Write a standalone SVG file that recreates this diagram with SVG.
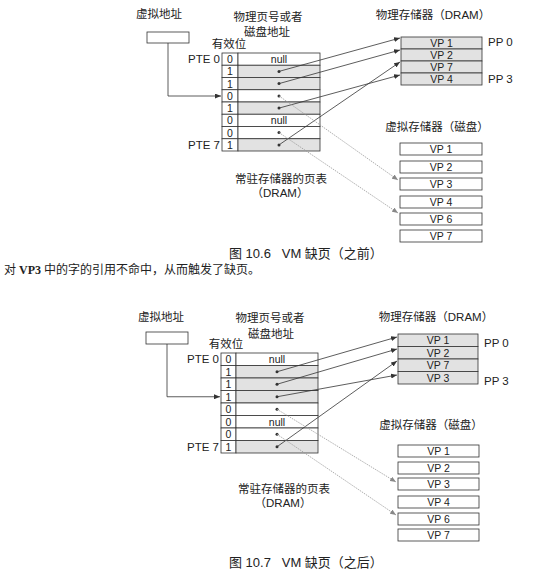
<svg xmlns="http://www.w3.org/2000/svg" width="556" height="577" viewBox="0 0 556 577">
<style>
text{font-family:"Liberation Sans","Noto Sans CJK SC",sans-serif;fill:#222}
.lb{font-size:11.5px}
.cap{font-size:13px}
.body{font-family:"Liberation Serif","Noto Sans CJK SC",serif;font-size:12px}
.c{text-anchor:middle}
.e{text-anchor:end}
.cell{font-size:10.5px;text-anchor:middle}
.box{fill:#fff;stroke:#333;stroke-width:0.8}
.sh{fill:#e2e2e2;stroke:#333;stroke-width:0.8}
.ln{fill:none;stroke:#333;stroke-width:0.8}
.dl{fill:none;stroke:#999;stroke-width:0.8;stroke-dasharray:1.5 1}
.dot{fill:#333}
</style>
<defs>
<marker id="ah" viewBox="0 0 6 5" refX="6" refY="2.5" markerWidth="6" markerHeight="5" markerUnits="userSpaceOnUse" orient="auto"><path d="M0,0L6,2.5L0,5z" fill="#333"/></marker>
<marker id="ahg" viewBox="0 0 6 5" refX="6" refY="2.5" markerWidth="6" markerHeight="5" markerUnits="userSpaceOnUse" orient="auto"><path d="M0,0L6,2.5L0,5z" fill="#888"/></marker>
</defs>

<!-- ===== Figure 10.6 ===== -->
<g id="va-1">
<text class="lb c" x="159" y="18">虚拟地址</text>
<rect class="box" x="147" y="32" width="42" height="11"/>
</g>
<g id="pagetable-1">
<text class="lb c" x="268" y="21">物理页号或者</text>
<text class="lb c" x="267" y="36">磁盘地址</text>
<text class="lb c" x="229" y="48">有效位</text>
<text class="lb e" x="220" y="63">PTE 0</text>
<text class="lb e" x="220" y="149">PTE 7</text>
<rect class="box" x="222" y="53" width="16" height="12.25"/><rect class="box" x="238" y="53" width="82" height="12.25"/>
<rect class="box" x="222" y="65.25" width="16" height="12.25"/><rect class="sh" x="238" y="65.25" width="82" height="12.25"/>
<rect class="box" x="222" y="77.5" width="16" height="12.25"/><rect class="sh" x="238" y="77.5" width="82" height="12.25"/>
<rect class="box" x="222" y="89.75" width="16" height="12.25"/><rect class="box" x="238" y="89.75" width="82" height="12.25"/>
<rect class="box" x="222" y="102" width="16" height="12.25"/><rect class="sh" x="238" y="102" width="82" height="12.25"/>
<rect class="box" x="222" y="114.25" width="16" height="12.25"/><rect class="box" x="238" y="114.25" width="82" height="12.25"/>
<rect class="box" x="222" y="126.5" width="16" height="12.25"/><rect class="box" x="238" y="126.5" width="82" height="12.25"/>
<rect class="box" x="222" y="138.75" width="16" height="12.25"/><rect class="sh" x="238" y="138.75" width="82" height="12.25"/>
<text class="cell" x="230" y="63">0</text>
<text class="cell" x="230" y="75.2">1</text>
<text class="cell" x="230" y="87.5">1</text>
<text class="cell" x="230" y="99.7">0</text>
<text class="cell" x="230" y="112">1</text>
<text class="cell" x="230" y="124.2">0</text>
<text class="cell" x="230" y="136.5">0</text>
<text class="cell" x="230" y="148.7">1</text>
<text class="cell" x="279" y="63">null</text>
<text class="cell" x="279" y="124.2">null</text>
<circle class="dot" cx="279" cy="71.4" r="1.5"/>
<circle class="dot" cx="279" cy="83.6" r="1.5"/>
<circle class="dot" cx="279" cy="95.9" r="1.5"/>
<circle class="dot" cx="279" cy="108.1" r="1.5"/>
<circle class="dot" cx="279" cy="132.6" r="1.5"/>
<circle class="dot" cx="279" cy="144.9" r="1.5"/>
<text class="lb c" x="281" y="183">常驻存储器的页表</text>
<text class="lb c" x="280" y="197">（DRAM）</text>
</g>
<g id="phys-1">
<text class="lb c" x="433" y="19">物理存储器（DRAM）</text>
<rect class="sh" x="401" y="37" width="81" height="12"/>
<rect class="sh" x="401" y="49" width="81" height="12"/>
<rect class="sh" x="401" y="61" width="81" height="12"/>
<rect class="sh" x="401" y="73" width="81" height="12"/>
<text class="cell" x="441.5" y="47">VP 1</text>
<text class="cell" x="441.5" y="59">VP 2</text>
<text class="cell" x="441.5" y="71">VP 7</text>
<text class="cell" x="441.5" y="83">VP 4</text>
<text class="lb" x="488" y="46">PP 0</text>
<text class="lb" x="488" y="83">PP 3</text>
</g>
<g id="disk-1">
<text class="lb c" x="437" y="131">虚拟存储器（磁盘）</text>
<rect class="box" x="400" y="143" width="82" height="12"/>
<rect class="box" x="400" y="161" width="82" height="12"/>
<rect class="box" x="400" y="178" width="82" height="12"/>
<rect class="box" x="400" y="196" width="82" height="12"/>
<rect class="box" x="400" y="213" width="82" height="12"/>
<rect class="box" x="400" y="230" width="82" height="12"/>
<text class="cell" x="441" y="153">VP 1</text>
<text class="cell" x="441" y="171">VP 2</text>
<text class="cell" x="441" y="188">VP 3</text>
<text class="cell" x="441" y="206">VP 4</text>
<text class="cell" x="441" y="223">VP 6</text>
<text class="cell" x="441" y="240">VP 7</text>
</g>
<g id="connectors-1">
<path class="ln" d="M168,43V96H221" marker-end="url(#ah)"/>
<path class="ln" d="M279,71.4L400,38" marker-end="url(#ah)"/>
<path class="ln" d="M279,83.6L400,50" marker-end="url(#ah)"/>
<path class="ln" d="M279,108.1L400,75" marker-end="url(#ah)"/>
<path class="ln" d="M279,144.9L400,62" marker-end="url(#ah)"/>
<path class="dl" d="M279,95.9L398,180" marker-end="url(#ahg)"/>
<path class="dl" d="M279,132.6L398,213" marker-end="url(#ahg)"/>
</g>
<text class="cap" x="229" y="258">图 10.6&#160;&#160;&#160;VM 缺页（之前）</text>
<text class="body" x="4" y="274">对 <tspan font-weight="bold">VP3</tspan> 中的字的引用不命中，从而触发了缺页。</text>

<!-- ===== Figure 10.7 ===== -->
<g id="va-2">
<text class="lb c" x="161" y="321">虚拟地址</text>
<rect class="box" x="146" y="332" width="42" height="12"/>
</g>
<g id="pagetable-2">
<text class="lb c" x="270" y="322">物理页号或者</text>
<text class="lb c" x="271" y="338">磁盘地址</text>
<text class="lb c" x="226" y="348">有效位</text>
<text class="lb e" x="219" y="363">PTE 0</text>
<text class="lb e" x="219" y="451">PTE 7</text>
<rect class="box" x="221" y="353" width="15" height="12.5"/><rect class="box" x="236" y="353" width="82" height="12.5"/>
<rect class="box" x="221" y="365.5" width="15" height="12.5"/><rect class="sh" x="236" y="365.5" width="82" height="12.5"/>
<rect class="box" x="221" y="378" width="15" height="12.5"/><rect class="sh" x="236" y="378" width="82" height="12.5"/>
<rect class="box" x="221" y="390.5" width="15" height="12.5"/><rect class="sh" x="236" y="390.5" width="82" height="12.5"/>
<rect class="box" x="221" y="403" width="15" height="12.5"/><rect class="box" x="236" y="403" width="82" height="12.5"/>
<rect class="box" x="221" y="415.5" width="15" height="12.5"/><rect class="box" x="236" y="415.5" width="82" height="12.5"/>
<rect class="box" x="221" y="428" width="15" height="12.5"/><rect class="box" x="236" y="428" width="82" height="12.5"/>
<rect class="box" x="221" y="440.5" width="15" height="12.5"/><rect class="sh" x="236" y="440.5" width="82" height="12.5"/>
<text class="cell" x="228.5" y="363">0</text>
<text class="cell" x="228.5" y="375.5">1</text>
<text class="cell" x="228.5" y="388">1</text>
<text class="cell" x="228.5" y="400.5">1</text>
<text class="cell" x="228.5" y="413">0</text>
<text class="cell" x="228.5" y="425.5">0</text>
<text class="cell" x="228.5" y="438">0</text>
<text class="cell" x="228.5" y="450.5">1</text>
<text class="cell" x="277" y="363">null</text>
<text class="cell" x="277" y="425.5">null</text>
<circle class="dot" cx="277" cy="371.75" r="1.5"/>
<circle class="dot" cx="277" cy="384.25" r="1.5"/>
<circle class="dot" cx="277" cy="396.75" r="1.5"/>
<circle class="dot" cx="277" cy="409.25" r="1.5"/>
<circle class="dot" cx="277" cy="434.25" r="1.5"/>
<circle class="dot" cx="277" cy="446.75" r="1.5"/>
<text class="lb c" x="284" y="493">常驻存储器的页表</text>
<text class="lb c" x="283" y="507">（DRAM）</text>
</g>
<g id="phys-2">
<text class="lb c" x="436" y="321">物理存储器（DRAM）</text>
<rect class="sh" x="398" y="334" width="80" height="12.5"/>
<rect class="sh" x="398" y="346.5" width="80" height="12.5"/>
<rect class="sh" x="398" y="359" width="80" height="12.5"/>
<rect class="sh" x="398" y="371.5" width="80" height="12.5"/>
<text class="cell" x="438" y="344">VP 1</text>
<text class="cell" x="438" y="356.5">VP 2</text>
<text class="cell" x="438" y="369">VP 7</text>
<text class="cell" x="438" y="381.5">VP 3</text>
<text class="lb" x="484" y="347">PP 0</text>
<text class="lb" x="484" y="385">PP 3</text>
</g>
<g id="disk-2">
<text class="lb c" x="431" y="429">虚拟存储器（磁盘）</text>
<rect class="box" x="398" y="445" width="81" height="12"/>
<rect class="box" x="398" y="462" width="81" height="12"/>
<rect class="box" x="398" y="478" width="81" height="12"/>
<rect class="box" x="398" y="496" width="81" height="12"/>
<rect class="box" x="398" y="513" width="81" height="12"/>
<rect class="box" x="398" y="529" width="81" height="12"/>
<text class="cell" x="438.5" y="455">VP 1</text>
<text class="cell" x="438.5" y="472">VP 2</text>
<text class="cell" x="438.5" y="488">VP 3</text>
<text class="cell" x="438.5" y="506">VP 4</text>
<text class="cell" x="438.5" y="523">VP 6</text>
<text class="cell" x="438.5" y="539">VP 7</text>
</g>
<g id="connectors-2">
<path class="ln" d="M167,344V396.75H220" marker-end="url(#ah)"/>
<path class="ln" d="M277,371.75L397,337" marker-end="url(#ah)"/>
<path class="ln" d="M277,384.25L397,349" marker-end="url(#ah)"/>
<path class="ln" d="M277,396.75L397,375" marker-end="url(#ah)"/>
<path class="ln" d="M277,446.75L397,361" marker-end="url(#ah)"/>
<path class="dl" d="M277,409.25L396,482" marker-end="url(#ahg)"/>
<path class="dl" d="M277,434.25L396,515" marker-end="url(#ahg)"/>
</g>
<text class="cap" x="229" y="567">图 10.7&#160;&#160;&#160;VM 缺页（之后）</text>
</svg>
